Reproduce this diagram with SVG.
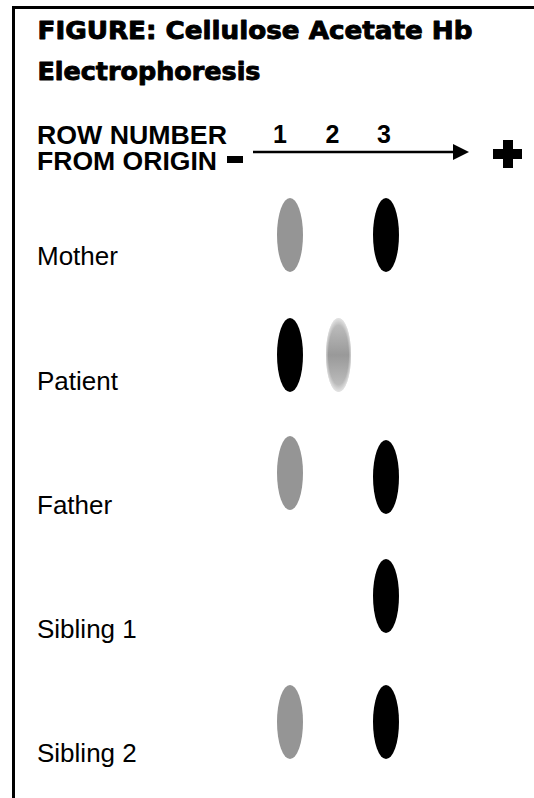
<svg xmlns="http://www.w3.org/2000/svg" width="534" height="798" viewBox="0 0 534 798">
  <style>
    .title { font-family: "DejaVu Sans", "Liberation Sans", sans-serif; font-weight: bold; font-size: 24px; fill: #000; stroke: #000; stroke-width: 0.9; stroke-linejoin: round; }
    .head { font-family: "Liberation Sans", Arial, sans-serif; font-weight: bold; font-size: 25px; fill: #000; }
    .label { font-family: "Liberation Sans", Arial, sans-serif; font-size: 26px; fill: #000; }
    .band-strong { fill: #000; }
    .band-weak { fill: #959595; }
    .band-faint { fill: url(#faint); }
  </style>
  <defs>
    <linearGradient id="faint" x1="0" y1="0" x2="0" y2="1">
      <stop offset="0" stop-color="#c4c4c4"/>
      <stop offset="0.5" stop-color="#999"/>
      <stop offset="1" stop-color="#c4c4c4"/>
    </linearGradient>
    <radialGradient id="rim" cx="0.5" cy="0.5" r="0.5">
      <stop offset="0.8" stop-color="#fff" stop-opacity="0"/>
      <stop offset="1" stop-color="#fff" stop-opacity="0.55"/>
    </radialGradient>
    <marker id="arrow" viewBox="0 0 16 16" refX="0" refY="8" markerWidth="16" markerHeight="16" markerUnits="userSpaceOnUse" orient="auto">
      <path d="M0,0 L16,8 L0,16 Z" fill="#000"/>
    </marker>
  </defs>

  <!-- frame -->
  <path d="M13.5,798 V7.5 H534" fill="none" stroke="#000" stroke-width="3"/>

  <!-- heading -->
  <g id="title">
    <text class="title" x="37.5" y="39" textLength="435" lengthAdjust="spacingAndGlyphs">FIGURE: Cellulose Acetate Hb</text>
    <text class="title" x="37.5" y="80" textLength="223" lengthAdjust="spacingAndGlyphs">Electrophoresis</text>
  </g>

  <!-- axis header -->
  <g id="axis-label">
    <text class="head" x="37" y="144" textLength="190" lengthAdjust="spacingAndGlyphs">ROW NUMBER</text>
    <text class="head" x="37" y="170" textLength="180" lengthAdjust="spacingAndGlyphs">FROM ORIGIN</text>
  </g>
  <g id="lane-numbers">
    <text class="head" x="280" y="143" text-anchor="middle">1</text>
    <text class="head" x="332.5" y="143" text-anchor="middle">2</text>
    <text class="head" x="384" y="143" text-anchor="middle">3</text>
  </g>
  <g id="cathode">
    <rect x="227" y="156" width="16" height="7" fill="#000"/>
  </g>
  <g id="anode">
    <rect x="493" y="149" width="29" height="10" fill="#000"/>
    <rect x="503" y="140" width="10" height="28" fill="#000"/>
  </g>

  <!-- direction of migration -->
  <g id="connectors">
    <line x1="253" y1="152" x2="453" y2="152" stroke="#000" stroke-width="2.5" marker-end="url(#arrow)"/>
  </g>

  <!-- sample rows -->
  <g id="mother">
    <text class="label" x="37" y="265">Mother</text>
    <ellipse class="band-weak" cx="290" cy="235" rx="13" ry="37"/>
    <ellipse class="band-strong" cx="386" cy="235" rx="13" ry="37"/>
  </g>
  <g id="patient">
    <text class="label" x="37" y="390">Patient</text>
    <ellipse class="band-strong" cx="290" cy="355" rx="13" ry="37"/>
    <ellipse class="band-faint" cx="338.5" cy="355" rx="12.5" ry="37"/>
    <ellipse cx="338.5" cy="355" rx="12.5" ry="37" fill="url(#rim)"/>
  </g>
  <g id="father">
    <text class="label" x="37" y="514">Father</text>
    <ellipse class="band-weak" cx="290" cy="473" rx="13" ry="37"/>
    <ellipse class="band-strong" cx="386" cy="477" rx="13" ry="37"/>
  </g>
  <g id="sibling-1">
    <text class="label" x="37" y="638">Sibling 1</text>
    <ellipse class="band-strong" cx="386" cy="596" rx="13" ry="37"/>
  </g>
  <g id="sibling-2">
    <text class="label" x="37" y="762">Sibling 2</text>
    <ellipse class="band-weak" cx="290" cy="722" rx="13" ry="37"/>
    <ellipse class="band-strong" cx="386" cy="722" rx="13" ry="37"/>
  </g>
</svg>
